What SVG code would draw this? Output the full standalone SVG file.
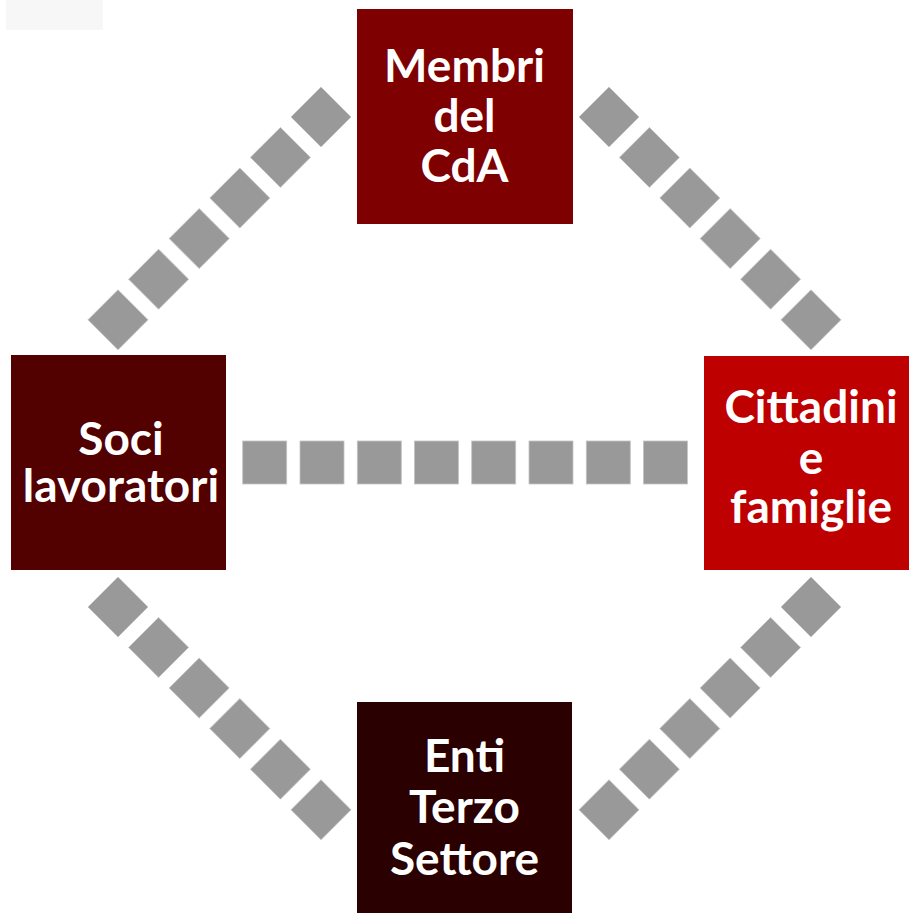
<svg xmlns="http://www.w3.org/2000/svg" width="909" height="913" viewBox="0 0 909 913">
  <defs>
    <style>
      .dash { fill: #999999; stroke: #c4c4c4; stroke-width: 0.8; }
      .lbl { font-family: Lato, "Open Sans", "Liberation Sans", sans-serif; font-weight: 700; font-size: 46px; fill: #ffffff; text-anchor: middle; }
    </style>
    <rect id="sq" x="-21.2" y="-21.2" width="42.4" height="42.4" transform="rotate(45)"/>
  </defs>
  <rect x="0" y="0" width="909" height="913" fill="#ffffff"/>
  <rect x="6" y="0" width="97" height="30" fill="#f7f7f7"/>

  <g id="connectors">
    <g id="conn-top-left" class="dash">
      <use href="#sq" x="321" y="117"/>
      <use href="#sq" x="280.4" y="157.4"/>
      <use href="#sq" x="239.8" y="198"/>
      <use href="#sq" x="199.2" y="238.6"/>
      <use href="#sq" x="158.6" y="279.2"/>
      <use href="#sq" x="118" y="319.8"/>
    </g>
    <g id="conn-top-right" class="dash">
      <use href="#sq" x="609" y="117"/>
      <use href="#sq" x="649.4" y="157.4"/>
      <use href="#sq" x="689.8" y="198"/>
      <use href="#sq" x="730.2" y="238.6"/>
      <use href="#sq" x="770.6" y="279.2"/>
      <use href="#sq" x="811" y="319.8"/>
    </g>
    <g id="conn-bottom-left" class="dash">
      <use href="#sq" x="118" y="607"/>
      <use href="#sq" x="158.6" y="647.4"/>
      <use href="#sq" x="199.2" y="688"/>
      <use href="#sq" x="239.8" y="728.6"/>
      <use href="#sq" x="280.4" y="769.2"/>
      <use href="#sq" x="321" y="809.8"/>
    </g>
    <g id="conn-bottom-right" class="dash">
      <use href="#sq" x="811" y="607"/>
      <use href="#sq" x="770.6" y="647.4"/>
      <use href="#sq" x="730.2" y="688"/>
      <use href="#sq" x="689.8" y="728.6"/>
      <use href="#sq" x="649.4" y="769.2"/>
      <use href="#sq" x="609" y="809.8"/>
    </g>
    <g id="conn-horizontal" class="dash">
      <rect x="242.7" y="441" width="44" height="43"/>
      <rect x="300" y="441" width="44" height="43"/>
      <rect x="357.3" y="441" width="44" height="43"/>
      <rect x="414.4" y="441" width="44" height="43"/>
      <rect x="471.7" y="441" width="44" height="43"/>
      <rect x="529" y="441" width="44" height="43"/>
      <rect x="586.3" y="441" width="44" height="43"/>
      <rect x="643.4" y="441" width="44" height="43"/>
    </g>
  </g>

  <g id="node-cda">
    <rect x="357" y="9" width="216" height="215" fill="#7f0000"/>
    <text class="lbl" x="464.5" y="82">Membri</text>
    <text class="lbl" x="464.5" y="132">del</text>
    <text class="lbl" x="464.5" y="182">CdA</text>
  </g>

  <g id="node-soci">
    <rect x="11" y="355" width="215" height="215" fill="#520000"/>
    <text class="lbl" x="121" y="455">Soci</text>
    <text class="lbl" x="121" y="502">lavoratori</text>
  </g>

  <g id="node-cittadini">
    <rect x="704" y="356" width="215" height="214" fill="#bf0000"/>
    <text class="lbl" x="811" y="423">Cittadini</text>
    <text class="lbl" x="811" y="474">e</text>
    <text class="lbl" x="811" y="523">famiglie</text>
  </g>

  <g id="node-enti">
    <rect x="357" y="702" width="215" height="215" fill="#2b0000"/>
    <text class="lbl" x="464.5" y="772">Enti</text>
    <text class="lbl" x="464.5" y="823">Terzo</text>
    <text class="lbl" x="464.5" y="875">Settore</text>
  </g>
</svg>
